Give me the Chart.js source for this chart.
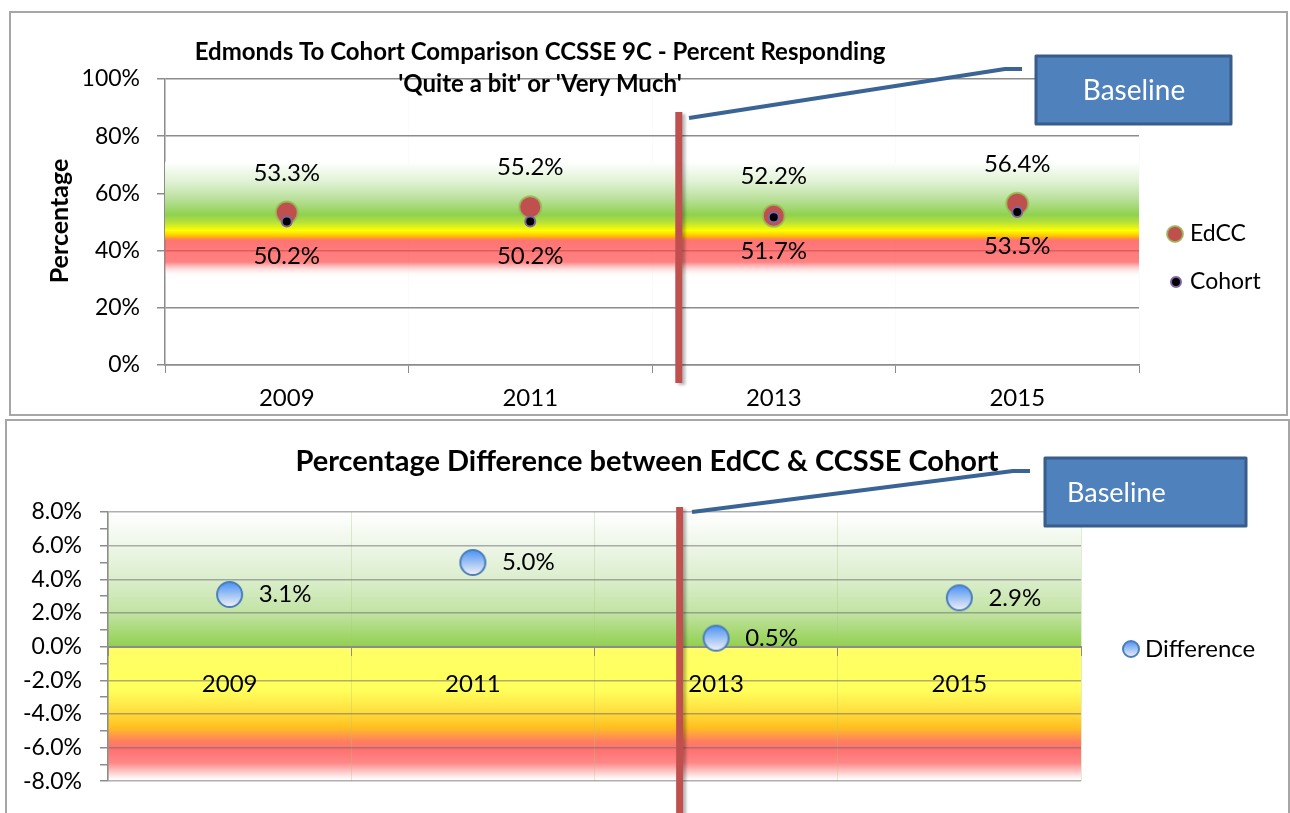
<!DOCTYPE html>
<html><head><meta charset="utf-8">
<script src="https://cdn.jsdelivr.net/npm/chart.js@4.4.1/dist/chart.umd.min.js"></script>
<style>
html,body{margin:0;padding:0;background:#fff;width:1290px;height:813px;overflow:hidden;}
#box1{position:absolute;left:9px;top:11px;width:1275px;height:401px;border:2px solid #a6a6a6;}
#box2{position:absolute;left:5px;top:419px;width:1281px;height:400px;border:2px solid #a6a6a6;}
#c1{position:absolute;left:0;top:0;}
#c2{position:absolute;left:0;top:416px;}
</style></head><body>
<div id="box1"></div><div id="box2"></div>
<canvas id="c1" width="1290" height="416"></canvas>
<canvas id="c2" width="1290" height="397"></canvas>
<script>
// ---- data ----
const years = ['2009', '2011', '2013', '2015'];
const edccValues = [53.3, 55.2, 52.2, 56.4];
const cohortValues = [50.2, 50.2, 51.7, 53.5];
const diffValues = [3.1, 5.0, 0.5, 2.9];
const topTitleLines = ['Edmonds To Cohort Comparison CCSSE 9C - Percent Responding', "'Quite a bit' or 'Very Much'"];
const bottomTitle = 'Percentage Difference between EdCC & CCSSE Cohort';
const topYTitle = 'Percentage';
const baselineText = 'Baseline';

const FONT = 'Lato, "Open Sans", "DejaVu Sans", sans-serif';
const GRID = '#8c8c8c';

function bubbleCanvas(r) {
  const s = Math.ceil(2 * r + 4);
  const cv = document.createElement('canvas');
  cv.width = s; cv.height = s;
  const g = cv.getContext('2d');
  const c = s / 2;
  const grad = g.createLinearGradient(0, c - r, 0, c + r);
  grad.addColorStop(0, '#4b91f4');
  grad.addColorStop(0.5, '#9ec3f4');
  grad.addColorStop(1, '#f3eff7');
  g.beginPath(); g.arc(c, c, r, 0, Math.PI * 2);
  g.fillStyle = grad; g.fill();
  g.lineWidth = 2; g.strokeStyle = '#4a7ebb'; g.stroke();
  return cv;
}
const bubble = bubbleCanvas(12.5);
const bubbleSmall = bubbleCanvas(8);

function bandPlugin(id, hook, stops) {
  return {
    id,
    [hook](chart) {
      const { ctx, chartArea: a, scales: { y } } = chart;
      const y0 = y.getPixelForValue(stops[0][0]);
      const y1 = y.getPixelForValue(stops[stops.length - 1][0]);
      const g = ctx.createLinearGradient(0, y0, 0, y1);
      stops.forEach(([v, c]) => g.addColorStop(Math.min(1, Math.max(0, (y.getPixelForValue(v) - y0) / (y1 - y0))), c));
      ctx.save();
      ctx.fillStyle = g;
      ctx.fillRect(a.left, y0, a.right - a.left, y1 - y0);
      ctx.restore();
    }
  };
}

const valueLabels = {
  id: 'vlabels',
  afterDatasetsDraw(chart, args, opts) {
    const ctx = chart.ctx;
    ctx.save();
    ctx.font = opts.font;
    ctx.fillStyle = '#000';
    ctx.textBaseline = 'middle';
    opts.items.forEach(it => {
      const meta = chart.getDatasetMeta(it.dataset);
      const data = chart.data.datasets[it.dataset].data;
      ctx.textAlign = it.align;
      meta.data.forEach((pt, i) => {
        ctx.fillText(data[i].toFixed(1) + '%', pt.x + it.dx, pt.y + it.dy);
      });
    });
    ctx.restore();
  }
};

const decor = {
  id: 'decor',
  afterDraw(chart, args, o) {
    const ctx = chart.ctx;
    const xs = chart.scales.x;
    ctx.save();
    // titles
    ctx.fillStyle = '#000';
    ctx.textAlign = 'center';
    ctx.textBaseline = 'alphabetic';
    ctx.font = o.titleFont;
    o.title.forEach((t, i) => ctx.fillText(t, o.titleX, o.titleY[i]));
    if (o.yTitle) {
      ctx.save();
      ctx.translate(o.yTitle.x, o.yTitle.y);
      ctx.rotate(-Math.PI / 2);
      ctx.font = o.yTitle.font;
      ctx.textBaseline = 'middle';
      ctx.fillText(o.yTitle.text, 0, 0);
      ctx.restore();
    }
    // red baseline marker
    const rx = xs.getPixelForValue(o.redAt);
    ctx.save();
    ctx.shadowColor = 'rgba(0,0,0,0.28)';
    ctx.shadowOffsetX = 3; ctx.shadowOffsetY = 2; ctx.shadowBlur = 3;
    ctx.strokeStyle = '#c0504d';
    ctx.lineWidth = 7;
    ctx.beginPath(); ctx.moveTo(rx, o.redTop); ctx.lineTo(rx, o.redBottom); ctx.stroke();
    ctx.restore();
    // callout line
    ctx.strokeStyle = '#3a6496';
    ctx.lineWidth = 4;
    ctx.lineJoin = 'round';
    ctx.beginPath();
    o.callout.forEach((p, i) => i ? ctx.lineTo(p[0], p[1]) : ctx.moveTo(p[0], p[1]));
    ctx.stroke();
    // box
    const b = o.box;
    ctx.fillStyle = '#4f81bd';
    ctx.strokeStyle = '#385d8a';
    ctx.lineWidth = 3;
    ctx.fillRect(b.x, b.y, b.w, b.h);
    ctx.strokeRect(b.x, b.y, b.w, b.h);
    ctx.fillStyle = '#fff';
    ctx.font = b.font;
    ctx.textAlign = b.align;
    ctx.textBaseline = 'middle';
    ctx.fillText(baselineText, b.tx, b.ty);
    // legend
    ctx.font = o.legend.font;
    ctx.textAlign = 'left';
    ctx.textBaseline = 'middle';
    o.legend.items.forEach(it => {
      const ds = chart.data.datasets[it.dataset];
      if (it.image) {
        ctx.drawImage(it.image, it.mx - it.image.width / 2, it.my - it.image.height / 2);
      } else {
        ctx.beginPath();
        ctx.arc(it.mx, it.my, it.r, 0, Math.PI * 2);
        ctx.fillStyle = ds.pointBackgroundColor; ctx.fill();
        ctx.lineWidth = ds.pointBorderWidth; ctx.strokeStyle = ds.pointBorderColor; ctx.stroke();
      }
      ctx.fillStyle = '#000';
      ctx.fillText(ds.label, it.tx, it.my);
    });
    ctx.restore();
  }
};

// ---- top chart ----
const topBand = bandPlugin('topBand', 'beforeDatasetsDraw', [
  [71, 'rgba(255,255,255,1)'],
  [64, '#e0f1d4'],
  [58, '#b9e09a'],
  [52.5, '#8fd14f'],
  [50, '#b5e03a'],
  [47, '#ffff00'],
  [45, '#ffc000'],
  [43.5, 'rgba(255,70,70,0.75)'],
  [36, 'rgba(255,80,80,0.72)'],
  [30.8, 'rgba(255,255,255,0)']
]);

new Chart(document.getElementById('c1'), {
  type: 'line',
  data: {
    labels: years,
    datasets: [
      { label: 'EdCC', data: edccValues, showLine: false, order: 2,
        pointRadius: 11, pointHoverRadius: 11,
        pointBackgroundColor: '#c0504d', pointBorderColor: 'rgba(150,190,90,0.85)', pointBorderWidth: 2 },
      { label: 'Cohort', data: cohortValues, showLine: false, order: 1,
        pointRadius: 5, pointHoverRadius: 5,
        pointBackgroundColor: '#000', pointBorderColor: '#8064a2', pointBorderWidth: 2 }
    ]
  },
  options: {
    responsive: false, animation: false, events: [],
    layout: { padding: { top: 79, left: 0, right: 151, bottom: 0 } },
    plugins: {
      legend: { display: false }, tooltip: { enabled: false },
      vlabels: { font: '24px ' + FONT, items: [
        { dataset: 0, dx: 0, dy: -39.5, align: 'center' },
        { dataset: 1, dx: 0, dy: 34.5, align: 'center' }
      ] },
      decor: {
        title: topTitleLines, titleFont: 'bold 24px ' + FONT, titleX: 540, titleY: [60, 92],
        yTitle: { text: topYTitle, x: 60, y: 221, font: 'bold 25px ' + FONT },
        redAt: 1.61, redTop: 112, redBottom: 383,
        callout: [[689, 118], [1005, 69], [1022, 69]],
        box: { x: 1036, y: 56, w: 195, h: 68, tx: 1134, ty: 91, align: 'center', font: '28px ' + FONT },
        legend: { font: '23px ' + FONT, items: [
          { dataset: 0, mx: 1175, my: 234, r: 8, tx: 1190 },
          { dataset: 1, mx: 1176, my: 282, r: 5, tx: 1190 }
        ] }
      }
    },
    scales: {
      x: {
        type: 'category', offset: true,
        grid: { offset: true, drawOnChartArea: true, color: 'rgba(0,0,0,0.015)', tickColor: GRID, tickLength: 8, lineWidth: 1 },
        border: { color: GRID, width: 1.5 },
        ticks: { font: { family: FONT, size: 24 }, color: '#000', padding: 11 },
        afterFit(s) { s.height = 51; }
      },
      y: {
        min: 0, max: 100,
        ticks: { stepSize: 20, callback: v => v + '%', font: { family: FONT, size: 23 }, color: '#000', padding: 17 },
        grid: { color: GRID, tickColor: GRID, tickLength: 8, lineWidth: 1.5 },
        border: { color: GRID, width: 1.5 },
        afterFit(s) { s.width = 165; }
      }
    }
  },
  plugins: [topBand, valueLabels, decor]
});

// ---- bottom chart ----
const bottomBand = bandPlugin('bottomBand', 'beforeDraw', [
  [8, '#ffffff'],
  [6, '#eef6e8'],
  [4, '#dbeecd'],
  [2, '#c2e3a3'],
  [0.02, '#92d050'],
  [0, '#ffff66'],
  [-2.6, '#ffff5c'],
  [-3.8, '#ffe040'],
  [-4.8, '#ffc020'],
  [-5.6, '#ff8060'],
  [-6.1, '#ff7070'],
  [-6.9, '#ff8787'],
  [-7.9, '#ffffff']
]);

new Chart(document.getElementById('c2'), {
  type: 'line',
  data: {
    labels: years,
    datasets: [
      { label: 'Difference', data: diffValues, showLine: false,
        pointStyle: bubble, pointRadius: 13, pointHoverRadius: 13 }
    ]
  },
  options: {
    responsive: false, animation: false, events: [],
    layout: { padding: { top: 96, left: 0, right: 209, bottom: 26 } },
    plugins: {
      legend: { display: false }, tooltip: { enabled: false },
      vlabels: { font: '24px ' + FONT, items: [
        { dataset: 0, dx: 29, dy: 0, align: 'left' }
      ] },
      decor: {
        title: [bottomTitle], titleFont: 'bold 29px ' + FONT, titleX: 647, titleY: [55],
        redAt: 1.85, redTop: 91, redBottom: 400,
        callout: [[692, 96], [1013, 55], [1030, 55]],
        box: { x: 1045, y: 42, w: 201, h: 68, tx: 1067, ty: 77, align: 'left', font: '27px ' + FONT },
        legend: { font: '24px ' + FONT, items: [
          { dataset: 0, mx: 1131, my: 233, image: bubbleSmall, tx: 1145 }
        ] }
      }
    },
    scales: {
      x: {
        type: 'category', offset: true, position: { y: 0 },
        grid: { offset: true, drawOnChartArea: true, color: 'rgba(170,200,120,0.35)', tickColor: GRID, tickLength: 8, lineWidth: 1 },
        border: { color: GRID, width: 2 },
        ticks: { font: { family: FONT, size: 24 }, color: '#000', padding: 15 }
      },
      y: {
        min: -8, max: 8,
        ticks: { stepSize: 1, autoSkip: false, callback: v => (Math.round(v) % 2 === 0 ? v.toFixed(1) + '%' : ''), font: { family: FONT, size: 23 }, color: '#000', padding: 18 },
        grid: { color: c => (Math.round(c.tick.value) % 2 === 0 ? 'rgba(110,110,110,0.55)' : 'rgba(0,0,0,0)'), tickColor: GRID, tickLength: 8, lineWidth: 1.5 },
        border: { color: GRID, width: 1.5 },
        afterFit(s) { s.width = 108; }
      }
    }
  },
  plugins: [bottomBand, valueLabels, decor]
});
</script>
</body></html>
